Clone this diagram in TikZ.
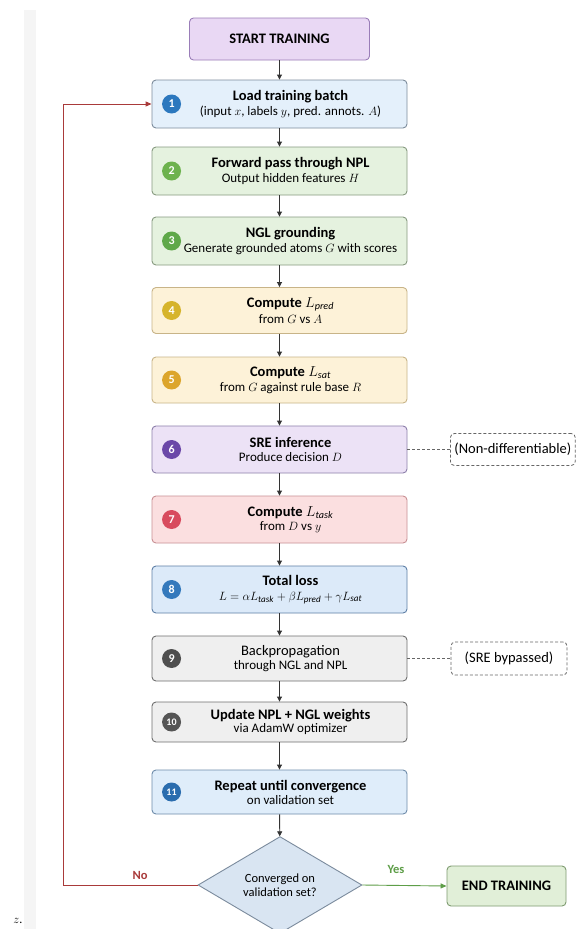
\documentclass[tikz,border=0pt]{standalone}
\usepackage{fontspec}
\setmainfont{Carlito}
\usetikzlibrary{shapes.geometric,arrows.meta,calc}

\definecolor{startfill}{HTML}{E9D8F4}\definecolor{startdraw}{HTML}{9A7DB8}
\definecolor{bluefill}{HTML}{E4F0FB}\definecolor{bluedraw}{HTML}{7D8C9C}
\definecolor{greenfill}{HTML}{E5F2DF}\definecolor{greendraw}{HTML}{879A80}
\definecolor{yelfill}{HTML}{FDF2D8}\definecolor{yeldraw}{HTML}{C8B488}
\definecolor{purfill}{HTML}{ECE2F6}\definecolor{purdraw}{HTML}{8C7FAA}
\definecolor{pinkfill}{HTML}{FBDFE0}\definecolor{pinkdraw}{HTML}{C89094}
\definecolor{totfill}{HTML}{DCEAF9}\definecolor{totdraw}{HTML}{5E7FA6}
\definecolor{grayfill}{HTML}{EFEFEF}\definecolor{graydraw}{HTML}{6F6F6F}
\definecolor{repfill}{HTML}{DFEDFA}\definecolor{repdraw}{HTML}{6E8CAA}
\definecolor{diafill}{HTML}{D9E5F2}\definecolor{diadraw}{HTML}{7B8B9D}
\definecolor{endfill}{HTML}{E1EFD8}\definecolor{enddraw}{HTML}{7E9B70}
\definecolor{cone}{HTML}{2C78BE}\definecolor{ctwo}{HTML}{6DB24E}
\definecolor{cthree}{HTML}{5FA84A}\definecolor{cfour}{HTML}{D6B42C}
\definecolor{cfive}{HTML}{DCA52C}\definecolor{csix}{HTML}{6B48A8}
\definecolor{cseven}{HTML}{D84B5E}\definecolor{ceight}{HTML}{3479BC}
\definecolor{cnine}{HTML}{4F4F4F}\definecolor{cten}{HTML}{555555}
\definecolor{celeven}{HTML}{2B6DAE}
\definecolor{loopred}{HTML}{A93A3A}\definecolor{yesgreen}{HTML}{5E9E48}
\definecolor{arrowc}{HTML}{333333}\definecolor{notec}{HTML}{666666}

\newcommand\ttl[1]{{\fontsize{14.5}{17}\selectfont\bfseries #1}}
\newcommand\ttr[1]{{\fontsize{14.5}{17}\selectfont #1}}
\newcommand\sub[1]{{\fontsize{13}{15}\selectfont #1}}

\newcommand\flowstep[8]{%
  \node[boxst, fill=#4, draw=#5, minimum height=#3] (#1) at (279.5,#2) {};
  \node[txt] (#1t) at ($(#1.center)+(11,0)$) {#8};
  \node[numc, fill=#6] (#1n) at ($(#1.west)+(20,0)$) {#7};
}

\begin{document}
\begin{tikzpicture}[x=1pt,y=-1pt,
  boxst/.style={rectangle, rounded corners=4pt, line width=0.9pt, minimum width=255pt, inner sep=0pt},
  txt/.style={align=center, inner sep=0pt},
  numc/.style={circle, minimum size=19pt, inner sep=0pt, text=white, font=\fontsize{12}{12}\selectfont\bfseries},
  flow/.style={draw=arrowc, line width=0.9pt, -{Triangle[length=5pt,width=5pt]}},
  note/.style={rectangle, rounded corners=4pt, draw=notec, dash pattern=on 3pt off 2pt, line width=0.8pt, inner xsep=4pt, font=\fontsize{14.5}{16}\selectfont},
  notelink/.style={draw=notec, dash pattern=on 3pt off 2pt, line width=0.8pt}
]
\useasboundingbox (0,0) rectangle (577,929);
\fill[white] (0,0) rectangle (577,929);
\fill[gray!8] (24,10) rectangle (36,929);

\node[rectangle, rounded corners=4pt, line width=0.9pt, fill=startfill, draw=startdraw,
  minimum width=180pt, minimum height=42pt] (start) at (279.5,39) {\ttl{START TRAINING}};

\flowstep{b1}{104}{48pt}{bluefill}{bluedraw}{cone}{1}{\ttl{Load training batch}\\[2.5pt]\sub{(input $x$, labels $y$, pred. annots. $A$)}}
\flowstep{b2}{171}{48pt}{greenfill}{greendraw}{ctwo}{2}{\ttl{Forward pass through NPL}\\[2.5pt]\sub{Output hidden features $H$}}
\flowstep{b3}{241}{48pt}{greenfill}{greendraw}{cthree}{3}{\ttl{NGL grounding}\\[2.5pt]\sub{Generate grounded atoms $G$ with scores}}
\flowstep{b4}{310.5}{46pt}{yelfill}{yeldraw}{cfour}{4}{\ttl{Compute $L_{\mathit{pred}}$}\\[2.5pt]\sub{from $G$ vs $A$}}
\flowstep{b5}{380}{46pt}{yelfill}{yeldraw}{cfive}{5}{\ttl{Compute $L_{\mathit{sat}}$}\\[2.5pt]\sub{from $G$ against rule base $R$}}
\flowstep{b6}{449.5}{47pt}{purfill}{purdraw}{csix}{6}{\ttl{SRE inference}\\[2.5pt]\sub{Produce decision $D$}}
\flowstep{b7}{519.5}{47pt}{pinkfill}{pinkdraw}{cseven}{7}{\ttl{Compute $L_{\mathit{task}}$}\\[2.5pt]\sub{from $D$ vs $y$}}
\flowstep{b8}{589.5}{47pt}{totfill}{totdraw}{ceight}{8}{\ttl{Total loss}\\[2.5pt]\sub{$L=\alpha L_{\mathit{task}}+\beta L_{\mathit{pred}}+\gamma L_{\mathit{sat}}$}}
\flowstep{b9}{658.5}{45pt}{grayfill}{graydraw}{cnine}{9}{\ttr{Backpropagation}\\[2.5pt]\sub{through NGL and NPL}}
\flowstep{b10}{722}{40pt}{grayfill}{graydraw}{cten}{\fontsize{10}{10}\selectfont 10}{\ttl{Update NPL + NGL weights}\\[1.5pt]\sub{via AdamW optimizer}}
\flowstep{b11}{792}{44pt}{repfill}{repdraw}{celeven}{\fontsize{10}{10}\selectfont 11}{\ttl{Repeat until convergence}\\[2pt]\sub{on validation set}}

\node[diamond, fill=diafill, draw=diadraw, line width=0.9pt, minimum width=164pt, minimum height=84pt,
  inner sep=0pt, align=center, font=\fontsize{12.5}{14.5}\selectfont] (dia) at (280,885) {Converged on\\validation set?};

\node[rectangle, rounded corners=4pt, line width=0.9pt, fill=endfill, draw=enddraw,
  minimum width=119pt, minimum height=40pt] (end) at (506.5,886) {\ttl{END TRAINING}};

\node[note, anchor=west, minimum height=32pt] (nd) at (450,449.5) {(Non-differentiable)};
\node[note, minimum width=116pt, minimum height=33pt] (sb) at (509,658.5) {(SRE bypassed)};

\draw[flow] (start) -- (b1);
\draw[flow] (b1) -- (b2);
\draw[flow] (b2) -- (b3);
\draw[flow] (b3) -- (b4);
\draw[flow] (b4) -- (b5);
\draw[flow] (b5) -- (b6);
\draw[flow] (b6) -- (b7);
\draw[flow] (b7) -- (b8);
\draw[flow] (b8) -- (b9);
\draw[flow] (b9) -- (b10);
\draw[flow] (b10) -- (b11);
\draw[flow] (b11) -- (dia);

\draw[notelink] (b6.east) -- (nd.west);
\draw[notelink] (b9.east) -- (sb.west);

\coordinate (lc) at (63,104);
\draw[draw=loopred, line width=0.9pt, -{Triangle[length=6pt,width=5pt]}] (dia.west) -| (lc) -- (b1.west);
\node[text=loopred, font=\fontsize{12.5}{14}\selectfont\bfseries] (no) at (140,875) {No};

\draw[draw=yesgreen, line width=0.9pt, -{Triangle[length=6pt,width=5pt]}] (dia.east) -- (end.west);
\node[text=yesgreen, font=\fontsize{12.5}{14}\selectfont\bfseries] (yes) at (396,869) {Yes};

\node[font=\fontsize{12}{12}\selectfont] (zz) at (18,921) {$z$.};
\end{tikzpicture}
\end{document}
